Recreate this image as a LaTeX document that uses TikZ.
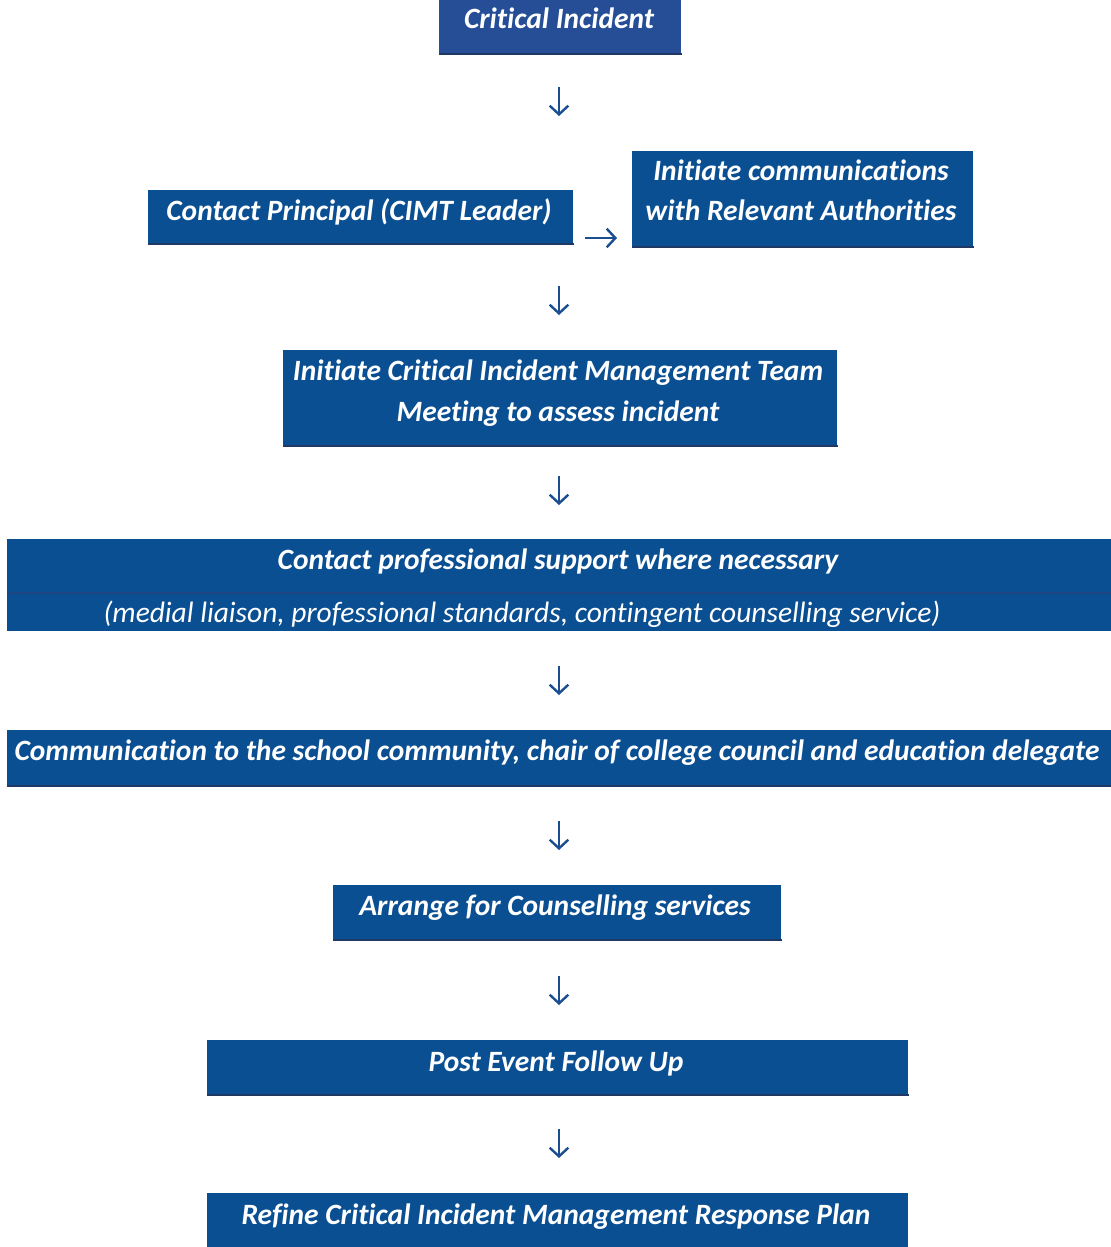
\documentclass[tikz,border=0pt]{standalone}
\usepackage{fontspec}
\setmainfont{Carlito}[Ligatures={NoCommon}]
\usetikzlibrary{arrows.meta}
\definecolor{boxblue}{RGB}{11,79,147}
\definecolor{topblue}{RGB}{37,78,150}
\definecolor{edgeblue}{RGB}{31,56,100}
\definecolor{arrowblue}{RGB}{27,78,145}
\definecolor{divblue}{RGB}{30,70,130}
\tikzset{
  box/.style={fill=boxblue, draw=none, inner sep=0pt, anchor=north west},
  edge/.style={draw=edgeblue, line width=1.5pt},
  txt/.style={text=white, font=\fontsize{22.1}{26}\selectfont\bfseries\itshape, anchor=base, inner sep=0pt},
  txtl/.style={text=white, font=\fontsize{22.1}{26}\selectfont\itshape, anchor=base, inner sep=0pt},
  arr/.style={draw=arrowblue, line width=1.8pt, -{Straight Barb[length=6.5pt,width=14pt,line width=1.8pt]}}
}
\begin{document}
\begin{tikzpicture}[x=0.75pt,y=-0.75pt]
\useasboundingbox (0,0) rectangle (1111,1247);
% boxes
\node[box, fill=topblue, minimum width=242*0.75pt, minimum height=54*0.75pt] (b1) at (439,0) {};
\node[box, minimum width=425*0.75pt, minimum height=54*0.75pt] (b2) at (148,190) {};
\node[box, minimum width=341*0.75pt, minimum height=96*0.75pt] (b3) at (632,151) {};
\node[box, minimum width=554*0.75pt, minimum height=96*0.75pt] (b4) at (283,350) {};
\node[box, minimum width=1104*0.75pt, minimum height=92*0.75pt] (b5) at (7,539) {};
\node[box, minimum width=1104*0.75pt, minimum height=56*0.75pt] (b6) at (7,730) {};
\node[box, minimum width=448*0.75pt, minimum height=55*0.75pt] (b7) at (333,885) {};
\node[box, minimum width=701*0.75pt, minimum height=55*0.75pt] (b8) at (207,1040) {};
\node[box, minimum width=701*0.75pt, minimum height=54*0.75pt] (b9) at (207,1193) {};
% bottom edges
\foreach \b in {b1,b2,b3,b4,b6,b7,b8}{
  \draw[edge] ([yshift=0.6pt]\b.south west) -- ([yshift=0.6pt]\b.south east);
}
\draw[draw=divblue, line width=0.8pt] (7,593) -- (1111,593);
% texts
\node[txt] (t1) at (559,28) {Critical Incident};
\node[txt] (t2) at (359,220) {Contact Principal (CIMT Leader)};
\node[txt] (t3a) at (801,180) {Initiate communications};
\node[txt] (t3b) at (801,220) {with Relevant Authorities};
\node[txt] (t4a) at (558,380) {Initiate Critical Incident Management Team};
\node[txt] (t4b) at (558,421) {Meeting to assess incident};
\node[txt] (t5a) at (558,569) {Contact professional support where necessary};
\node[txtl] (t5b) at (522,622) {(medial liaison, professional standards, contingent counselling service)};
\node[txt] (t6) at (557,760) {Communication to the school community, chair of college council and education delegate};
\node[txt] (t7) at (555,915) {Arrange for Counselling services};
\node[txt] (t8) at (556,1071) {Post Event Follow Up};
\node[txt] (t9) at (556,1224) {Refine Critical Incident Management Response Plan};
% arrows
\coordinate (a1s) at (559,87); \coordinate (a1e) at (559,116);
\coordinate (a2s) at (559,286); \coordinate (a2e) at (559,315);
\coordinate (a3s) at (559,476); \coordinate (a3e) at (559,505);
\coordinate (a4s) at (559,666); \coordinate (a4e) at (559,695);
\coordinate (a5s) at (559,821); \coordinate (a5e) at (559,850);
\coordinate (a6s) at (559,976); \coordinate (a6e) at (559,1005);
\coordinate (a7s) at (559,1129); \coordinate (a7e) at (559,1158);
\coordinate (ahs) at (585,238); \coordinate (ahe) at (617,238);
\foreach \i in {1,...,7}{ \draw[arr] (a\i s) -- (a\i e); }
\draw[arr] (ahs) -- (ahe);
\end{tikzpicture}
\end{document}
